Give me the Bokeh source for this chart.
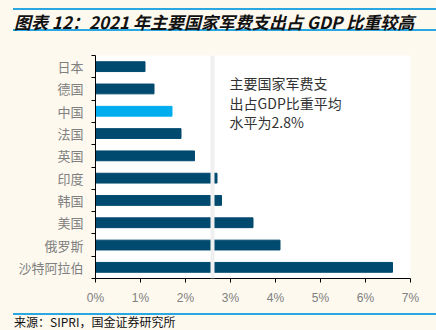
from bokeh.plotting import figure
from bokeh.models import (Range1d, FixedTicker, PrintfTickFormatter, Span, Label,
                          Div, ColumnDataSource)
from bokeh.layouts import column
from bokeh.embed import file_html
from bokeh.resources import INLINE

# ---- data (top to bottom) ----
countries = ["日本", "德国", "中国", "法国", "英国", "印度", "韩国", "美国", "俄罗斯", "沙特阿拉伯"]
gdp_share = [1.1, 1.3, 1.7, 1.9, 2.2, 2.7, 2.8, 3.5, 4.1, 6.6]
highlight = "中国"
ref_line = 2.6
x_ticks = [0, 1, 2, 3, 4, 5, 6, 7]
note_lines = ["主要国家军费支", "出占GDP比重平均", "水平为2.8%"]
title_text = "图表 12：2021 年主要国家军费支出占 GDP 比重较高"
source_text = "来源：SIPRI，国金证券研究所"

CREAM = "#FDF9EF"
DARK = "#004A6F"
LIGHT = "#00AEEF"
BLUE_LINE = "#2AA6E0"
CJK = "Noto Sans CJK SC"

n = len(countries)
ypos = [i + 0.5 for i in range(n)]
colors = [LIGHT if c == highlight else DARK for c in countries]
src = ColumnDataSource(dict(y=ypos, v=gdp_share, c=colors))

p = figure(width=436, height=272, output_backend="svg", toolbar_location=None,
           x_range=Range1d(0, 7), y_range=Range1d(n, 0),
           min_border_left=95, min_border_right=26, min_border_top=15, min_border_bottom=34)
p.background_fill_color = "white"
p.border_fill_color = CREAM
p.outline_line_color = None
p.grid.visible = False

p.hbar(y="y", left=0, right="v", height=0.44, color="c", source=src)

p.add_layout(Span(location=ref_line, dimension="height", line_color="#F0F0F0", line_width=4))

# axes
ya = p.yaxis[0]
ya.ticker = FixedTicker(ticks=ypos, minor_ticks=list(range(n + 1)))
ya.major_label_overrides = {y: c for y, c in zip(ypos, countries)}
ya.major_tick_out = 0
ya.major_tick_in = 0
ya.minor_tick_out = 4
ya.minor_tick_in = 0
ya.minor_tick_line_color = "black"
ya.axis_line_color = "black"
ya.major_label_text_font = CJK
ya.major_label_text_font_size = "13px"
ya.major_label_text_color = "#808080"
ya.major_label_standoff = 8

xa = p.xaxis[0]
xa.ticker = FixedTicker(ticks=x_ticks, minor_ticks=[])
xa.formatter = PrintfTickFormatter(format="%d%%")
xa.major_tick_out = 4
xa.major_tick_in = 0
xa.major_tick_line_color = "black"
xa.axis_line_color = "black"
xa.major_label_text_font = "Liberation Sans"
xa.major_label_text_font_size = "12px"
xa.major_label_text_color = "#808080"
xa.major_label_standoff = 8

for i, t in enumerate(note_lines):
    p.add_layout(Label(x=2.98, y=1.24 + 0.88 * i, text=t, text_font=CJK,
                       text_font_size="14px", text_color="#333333",
                       text_baseline="middle", text_align="left"))

top = Div(width=436, height=40, margin=0, styles={"background-color": CREAM}, text=f"""
<div style="width:436px;height:40px;background:{CREAM};margin:0;padding:8px 0 0 13px;box-sizing:border-box;">
 <div style="border-top:2px solid {BLUE_LINE};border-bottom:2px solid {BLUE_LINE};height:23px;padding-left:1px;font-family:'{CJK}';font-style:italic;font-weight:bold;font-size:17px;color:#111;white-space:nowrap;line-height:23px;">{title_text}</div>
</div>""")

bottom = Div(width=436, height=18, margin=0, styles={"background-color": CREAM}, text=f"""
<div style="width:436px;height:18px;background:{CREAM};margin:0;padding:1px 0 0 13px;box-sizing:border-box;overflow:hidden;">
 <div style="border-top:2px solid {BLUE_LINE};padding-left:1px;font-family:'{CJK}';font-size:12px;color:#111;white-space:nowrap;line-height:14px;">{source_text}</div>
</div>""")

layout = column(top, p, bottom, spacing=0, styles={"background-color": CREAM})
open("out.html", "w").write(file_html(layout, INLINE))
